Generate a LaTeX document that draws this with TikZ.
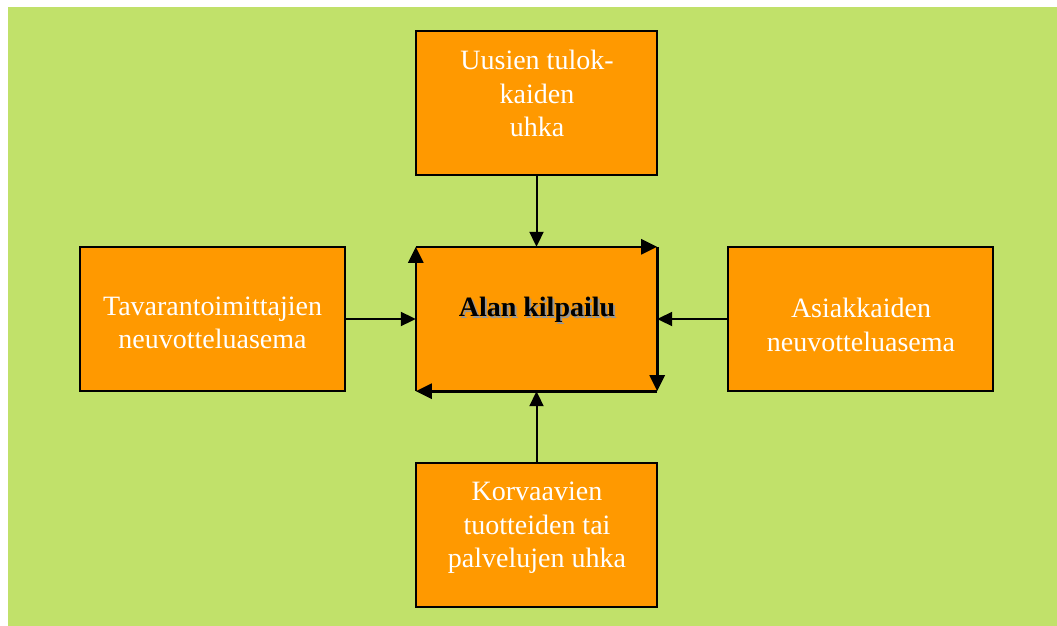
\documentclass[tikz,border=0pt]{standalone}
\usepackage{fontspec}
\setmainfont{Liberation Serif}
\usetikzlibrary{arrows.meta}
\definecolor{bggreen}{RGB}{193,225,106}
\definecolor{boxorange}{RGB}{255,153,0}
\definecolor{shadowgray}{RGB}{150,150,150}
\begin{document}
\begin{tikzpicture}[x=1pt,y=-1pt,
  box/.style={draw=black,line width=1.4pt,fill=boxorange,minimum width=241pt,minimum height=144pt,inner sep=0pt},
  widebox/.style={box,minimum width=265pt},
  centerbox/.style={fill=boxorange,minimum width=241pt,minimum height=144pt,inner sep=0pt},
  boxtext/.style={text=white,align=center,font=\fontsize{28}{33.5}\selectfont,inner sep=0pt},
  conn/.style={line width=2pt,-{Triangle[length=15pt,width=14pt]}},
  edge/.style={line width=2.6pt,-{Triangle[length=16pt,width=15pt]}}
]
\useasboundingbox (0,0) rectangle (1057,626);
\fill[bggreen] (8,7) rectangle (1057,626);

\node[box] (top) at (536.5,103) {};
\node[widebox] (left) at (212.5,319) {};
\node[centerbox] (mid) at (536.5,319) {};
\node[widebox] (right) at (860.5,319) {};
\node[box] (bottom) at (536.5,535) {};

\node[boxtext] (toptext) at (537,93.5) {Uusien tulok-\\kaiden\\uhka};
\node[boxtext] (lefttext) at (212.5,323) {Tavarantoimittajien\\neuvotteluasema};
\node[boxtext] (righttext) at (861,325) {Asiakkaiden\\neuvotteluasema};
\node[boxtext] (bottomtext) at (537,528) {Korvaavien\\tuotteiden tai\\palvelujen uhka};

\node[text=shadowgray,font=\fontsize{28}{33.5}\selectfont\bfseries,inner sep=0pt] (midshadow) at (539,312) {Alan kilpailu};
\node[text=black,font=\fontsize{28}{33.5}\selectfont\bfseries,inner sep=0pt] (midtext) at (537,310) {Alan kilpailu};

\draw[edge] (mid.north west) -- (mid.north east);
\draw[edge] (mid.north east) -- (mid.south east);
\draw[edge] (mid.south east) -- (mid.south west);
\draw[edge] (mid.south west) -- (mid.north west);

\draw[conn] (top.south) -- (mid.north);
\draw[conn] (left.east) -- (mid.west);
\draw[conn] (right.west) -- (mid.east);
\draw[conn] (bottom.north) -- (mid.south);
\end{tikzpicture}
\end{document}
